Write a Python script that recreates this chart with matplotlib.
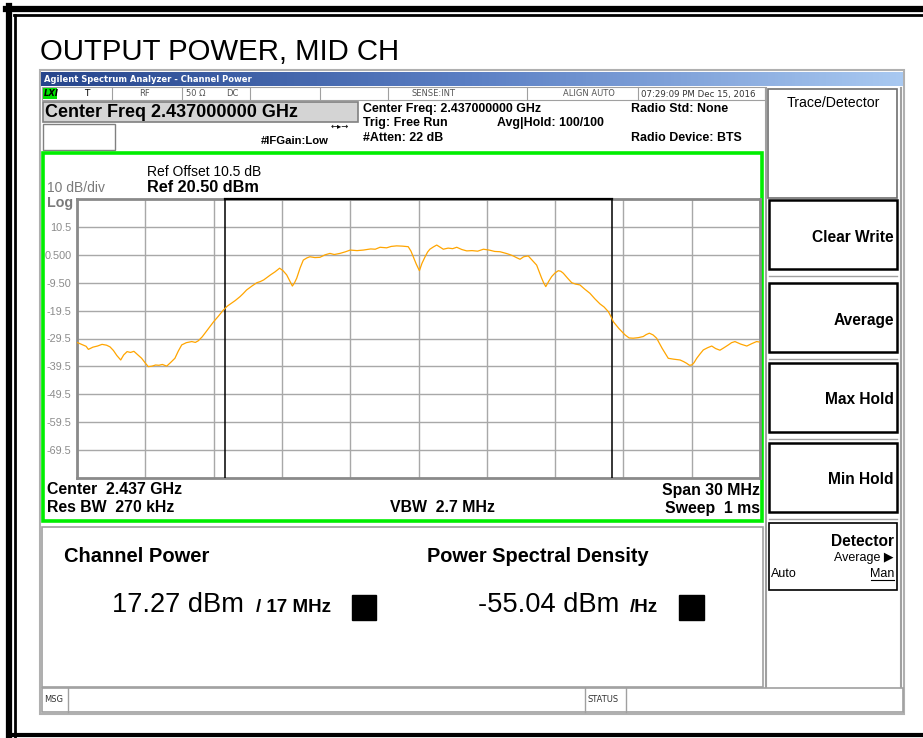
import matplotlib
matplotlib.use("Agg")
import matplotlib.pyplot as plt
import numpy as np
from matplotlib import font_manager
from matplotlib.patches import Rectangle
from matplotlib.colors import LinearSegmentedColormap

# trace: offset from centre (MHz) and level (dBm)
freq_mhz = [-15.0, -14.8, -14.6, -14.5, -14.3, -14.1, -13.9, -13.7, -13.55, -13.4,
            -13.25, -13.08, -12.95, -12.8, -12.65, -12.5, -12.35, -12.16, -12.0, -11.87,
            -11.7, -11.55, -11.4, -11.25, -11.06, -10.9, -10.7, -10.55, -10.4, -10.2,
            -9.96, -9.8, -9.67, -9.5, -9.38, -9.2, -9.0, -8.8, -8.57, -8.4,
            -8.28, -8.05, -7.84, -7.7, -7.55, -7.3, -7.1, -6.95, -6.8, -6.65,
            -6.5, -6.3, -6.1, -5.95, -5.79, -5.65, -5.54, -5.45, -5.35, -5.2,
            -5.06, -4.9, -4.77, -4.55, -4.33, -4.1, -3.89, -3.7, -3.45, -3.2,
            -3.0, -2.7, -2.42, -2.1, -1.9, -1.69, -1.4, -1.2, -0.96, -0.7,
            -0.45, -0.33, -0.23, -0.1, 0.04, 0.15, 0.29, 0.4, 0.5, 0.65,
            0.8, 0.95, 1.09, 1.3, 1.5, 1.68, 1.9, 2.12, 2.35, 2.6,
            2.85, 3.1, 3.35, 3.58, 3.85, 4.0, 4.16, 4.3, 4.46, 4.62,
            4.82, 5.0, 5.19, 5.3, 5.41, 5.5, 5.59, 5.72, 5.85, 6.0,
            6.14, 6.25, 6.36, 6.55, 6.73, 6.9, 7.09, 7.3, 7.53, 7.75,
            7.97, 8.15, 8.34, 8.45, 8.56, 8.8, 9.07, 9.25, 9.43, 9.65,
            9.87, 10.0, 10.14, 10.3, 10.46, 10.7, 10.97, 11.2, 11.49, 11.65,
            11.78, 11.9, 12.0, 12.1, 12.22, 12.35, 12.51, 12.7, 12.88, 13.05,
            13.24, 13.4, 13.61, 13.75, 13.9, 14.15, 14.42, 14.65, 14.85, 15.0]
level_dbm = [-30.9, -31.6, -32.3, -33.4, -32.6, -32.2, -31.6, -31.9, -32.5, -33.8,
             -35.6, -37.2, -35.4, -34.2, -34.5, -34.1, -35.2, -36.6, -38.3, -39.6,
             -39.4, -39.0, -39.1, -38.8, -39.4, -38.2, -36.6, -34.0, -31.8, -31.0,
             -30.6, -30.9, -30.3, -28.9, -27.6, -25.6, -23.5, -21.6, -19.3, -17.9,
             -17.2, -15.9, -14.5, -13.4, -12.1, -10.6, -9.5, -9.1, -8.5, -7.6,
             -6.7, -5.6, -4.3, -5.2, -6.7, -8.9, -10.7, -9.6, -7.9, -4.2,
             -1.4, -0.6, -0.2, -0.5, -0.4, 0.5, 1.0, 0.6, 1.0, 1.6,
             2.2, 2.0, 2.2, 2.6, 2.5, 3.2, 3.0, 3.5, 3.7, 3.6,
             3.4, 1.8, -0.2, -2.8, -5.2, -2.6, -0.2, 1.5, 2.5, 3.3,
             4.0, 3.2, 2.5, 2.9, 2.7, 3.2, 2.4, 1.9, 2.0, 1.8,
             2.5, 2.2, 1.7, 1.6, 1.0, 0.6, 0.1, -0.5, -1.1, -0.2,
             0.1, -1.5, -3.2, -5.6, -7.9, -9.6, -10.9, -9.0, -7.3, -6.0,
             -5.2, -5.4, -6.1, -7.9, -9.5, -10.0, -10.3, -11.8, -13.3, -15.3,
             -17.1, -18.2, -19.9, -21.6, -23.5, -25.9, -28.2, -29.3, -29.4, -29.2,
             -28.8, -28.1, -27.6, -28.2, -29.4, -33.0, -36.6, -36.9, -37.2, -37.8,
             -38.4, -39.1, -39.0, -38.2, -36.6, -35.2, -33.6, -32.8, -32.2, -33.1,
             -33.7, -32.9, -31.8, -31.0, -30.6, -31.5, -32.2, -31.3, -30.6, -30.8]

ref_level = 20.5
db_per_div = 10
span_mhz = 30
chan_bw_mhz = 17
ytick_vals = [10.5, 0.5, -9.5, -19.5, -29.5, -39.5, -49.5, -59.5, -69.5]
ytick_text = ["10.5", "0.500", "-9.50", "-19.5", "-29.5", "-39.5", "-49.5", "-59.5", "-69.5"]

W, H = 923, 738
names = {f.name for f in font_manager.fontManager.ttflist}
SANS = "Liberation Sans"
NARROW = "Liberation Sans Narrow" if "Liberation Sans Narrow" in names else SANS
plt.rcParams['font.family'] = [SANS, 'DejaVu Sans']

fig = plt.figure(figsize=(W / 100, H / 100), dpi=100)
bg = fig.add_axes([0, 0, 1, 1])
bg.set_xlim(0, W)
bg.set_ylim(H, 0)
bg.axis("off")


def box(x0, y0, x1, y1, ec="black", fc="none", lw=1.0, z=1):
    bg.add_patch(Rectangle((x0, y0), x1 - x0, y1 - y0, ec=ec, fc=fc, lw=lw, zorder=z))


def txt(x, y, s, size=9, weight="normal", ha="left", color="black", family=None, **kw):
    bg.text(x, y, s, fontsize=size, fontweight=weight, ha=ha, va="center", color=color,
            family=family or SANS, **kw)


# outer page border
bg.plot([9, 9], [6, 738], color="black", lw=4.5)
bg.plot([6, 923], [9, 9], color="black", lw=4.5)
bg.plot([14.5, 14.5], [15, 738], color="black", lw=2)
bg.plot([14, 923], [15, 15], color="black", lw=2)
bg.plot([9, 923], [735, 735], color="black", lw=3)

txt(40, 52, "OUTPUT POWER, MID CH", size=21.2)

# analyzer window frame + title bar
box(40, 70, 904, 714, ec="#b0b0b0", fc="white", lw=1.5)
grad = LinearSegmentedColormap.from_list("tb", ["#26458c", "#5b7fc4", "#a9c9f1"])
bg.imshow(np.linspace(0, 1, 256)[None, :], extent=[41, 903, 86, 72], cmap=grad,
          aspect="auto", zorder=2)
txt(44, 79, "Agilent Spectrum Analyzer - Channel Power", size=6.0, weight="bold",
    color="white", family="DejaVu Sans", zorder=3)

# status row
box(42, 87, 765, 100, ec="#a0a0a0", fc="white", lw=0.8)
for sx in [112, 182, 250, 320, 388, 527, 638]:
    bg.plot([sx, sx], [87, 100], color="#a0a0a0", lw=0.8)
box(43, 88, 57, 99, ec="none", fc="#00e000", z=2)
txt(44, 94, "LXI", size=6, weight="bold", style="italic", family="DejaVu Sans", zorder=3)
txt(87, 94, "T", size=6.5, ha="center", family="DejaVu Sans")
txt(145, 94, "RF", size=6, ha="center", color="#555555", family="DejaVu Sans")
txt(196, 94, "50 Ω", size=6, ha="center", color="#555555", family="DejaVu Sans")
txt(232, 94, "DC", size=6, ha="center", color="#555555", family="DejaVu Sans")
txt(455, 94, "SENSE:INT", size=6, ha="right", color="#555555", family="DejaVu Sans")
txt(615, 94, "ALIGN AUTO", size=6, ha="right", color="#555555", family="DejaVu Sans")
txt(641, 94, "07:29:09 PM Dec 15, 2016", size=6.2, color="#333333", family="DejaVu Sans")

# header block
box(43, 102, 358, 122, ec="#808080", fc="#d4d4d4", lw=1.2)
txt(45, 112.5, "Center Freq 2.437000000 GHz", size=13.0, weight="bold")
box(43, 124, 115, 150, ec="#808080", fc="white", lw=1)
txt(261, 141, "#IFGain:Low", size=8.1, weight="bold")
txt(331, 127, "←▸→", size=6, family="DejaVu Sans")
txt(363, 109, "Center Freq: 2.437000000 GHz", size=8.9, weight="bold")
txt(363, 123, "Trig: Free Run", size=8.9, weight="bold")
txt(363, 138, "#Atten: 22 dB", size=8.9, weight="bold")
txt(497, 123, "Avg|Hold: 100/100", size=8.9, weight="bold")
txt(631, 109, "Radio Std: None", size=8.9, weight="bold")
txt(631, 138, "Radio Device: BTS", size=8.9, weight="bold")

# green graticule frame
box(43, 153, 762, 521, ec="#00ee00", lw=2.6, z=4)
txt(147, 172, "Ref Offset 10.5 dB", size=10)
txt(147, 187, "Ref 20.50 dBm", size=11.7, weight="bold")
txt(47, 188, "10 dB/div", size=10, color="#7a7a7a")
txt(47, 203, "Log", size=10.3, weight="bold", color="#7a7a7a")

# trace plot
x0, x1, y0, y1 = 77, 760, 199, 478
ax = fig.add_axes([x0 / W, 1 - y1 / H, (x1 - x0) / W, (y1 - y0) / H])
ax.set_xlim(-span_mhz / 2, span_mhz / 2)
ax.set_ylim(ref_level - 10 * db_per_div, ref_level)
ax.set_xticks(np.linspace(-span_mhz / 2, span_mhz / 2, 11))
ax.set_xticklabels([])
ax.set_yticks(ytick_vals)
ax.set_yticklabels(ytick_text)
ax.tick_params(axis="both", length=0)
ax.tick_params(axis="y", pad=4, labelsize=7.8, labelcolor="#8a8a8a")
ax.grid(True, color="#a8a8a8", lw=1)
for s in ax.spines.values():
    s.set_color("#8a8a8a")
    s.set_linewidth(2)
for lab in ax.get_yticklabels():
    lab.set_fontfamily(SANS)
ax.axvline(-chan_bw_mhz / 2, color="black", lw=1.1, zorder=3)
ax.axvline(chan_bw_mhz / 2, color="black", lw=1.1, zorder=3)
ax.plot([-chan_bw_mhz / 2, chan_bw_mhz / 2], [ref_level, ref_level], color="black",
        lw=1.6, clip_on=False, zorder=4)
ax.plot(freq_mhz, level_dbm, color="#ffa500", lw=0.9, zorder=5)

txt(47, 490, "Center  2.437 GHz", size=11.4, weight="bold", family=NARROW)
txt(47, 508, "Res BW  270 kHz", size=11.4, weight="bold", family=NARROW)
txt(390, 508, "VBW  2.7 MHz", size=11.4, weight="bold", family=NARROW)
txt(760, 490, "Span 30 MHz", size=11.4, weight="bold", ha="right", family=NARROW)
txt(760, 508, "Sweep  1 ms", size=11.4, weight="bold", ha="right", family=NARROW)

# result panel
box(42, 527, 763, 687, ec="#a0a0a0", fc="white", lw=1.2)
txt(64, 557, "Channel Power", size=14.5, weight="bold")
txt(112, 605, "17.27 dBm", size=19.6)
txt(256, 607, "/ 17 MHz", size=13.5, weight="bold")
box(352, 595, 376, 620, ec="black", fc="black")
txt(427, 557, "Power Spectral Density", size=14.4, weight="bold")
txt(478, 605, "-55.04 dBm", size=19.6)
txt(630, 607, "/Hz", size=13.5, weight="bold")
box(679, 595, 704, 620, ec="black", fc="black")

# message / status bar
box(42, 688, 903, 712, ec="#a0a0a0", fc="white", lw=1.2)
for sx in [68, 585, 626]:
    bg.plot([sx, sx], [688, 712], color="#a0a0a0", lw=1)
txt(44, 700, "MSG", size=6, family="DejaVu Sans", color="#333333")
txt(587, 700, "STATUS", size=6, family="DejaVu Sans", color="#333333")

# soft key panel
bg.plot([766, 766], [88, 687], color="#a0a0a0", lw=1.5)
bg.plot([901, 901], [88, 687], color="#a0a0a0", lw=1.5)
box(768, 89, 897, 198, ec="#707070", fc="white", lw=1.2)
txt(833, 103, "Trace/Detector", size=10.2, ha="center")
keys = ["Clear Write", "Average", "Max Hold", "Min Hold"]
key_tops = [200, 283, 363, 443]
for label, top in zip(keys, key_tops):
    box(769, top, 897, top + 69, ec="black", fc="white", lw=1.8)
    bg.plot([769, 897], [top + 70 + 6, top + 70 + 6], color="#a0a0a0", lw=1)
    txt(894, top + 37, label, size=11.2, weight="bold", ha="right")
box(769, 523, 897, 590, ec="black", fc="white", lw=1.2)
txt(894, 541, "Detector", size=11.2, weight="bold", ha="right")
txt(894, 558, "Average ▶", size=9, ha="right", family=[SANS, "DejaVu Sans"])
txt(771, 574, "Auto", size=9)
txt(894, 574, "Man", size=9, ha="right")
bg.plot([871, 894], [580, 580], color="black", lw=0.8)

fig.savefig("out.png", dpi=100)
